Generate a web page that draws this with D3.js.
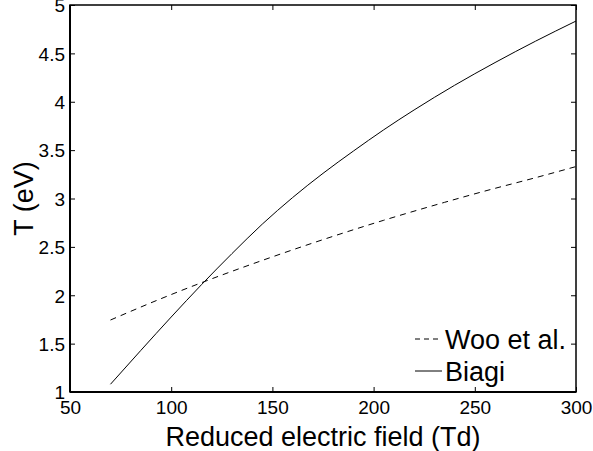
<!DOCTYPE html>
<html>
<head>
<meta charset="utf-8">
<script src="https://cdn.jsdelivr.net/npm/d3@7"></script>
<style>
html,body{margin:0;padding:0;background:#fff;}
svg{display:block;}
text{font-family:"Liberation Sans",Arial,Helvetica,sans-serif;fill:#000;}
</style>
</head>
<body>
<svg id="chart" width="593" height="451"></svg>
<script>
const wooX = [70, 95, 115, 145, 175, 205, 235, 255, 280, 300];
const wooT = [1.744, 1.965, 2.13, 2.36, 2.575, 2.775, 2.96, 3.077, 3.215, 3.33];
const biagiX = [70, 85, 100, 115, 130, 145, 160, 175, 190, 205, 220, 240, 260, 280, 300];
const biagiT = [1.08, 1.43, 1.775, 2.11, 2.43, 2.735, 3.01, 3.26, 3.49, 3.71, 3.915, 4.17, 4.405, 4.626, 4.834];
const xTicks = [50, 100, 150, 200, 250, 300];
const yTicks = [1, 1.5, 2, 2.5, 3, 3.5, 4, 4.5, 5];
const seriesNames = ["Woo et al.", "Biagi"];
const xLabel = "Reduced electric field (Td)";
const yLabel = "T (eV)";

const W = 593, H = 451;
const m = {left: 70, right: 17, top: 5, bottom: 59};
const svg = d3.select("#chart");
const x = d3.scaleLinear().domain([50, 300]).range([m.left, W - m.right]);
const y = d3.scaleLinear().domain([1, 5]).range([H - m.bottom, m.top]);

const line = d3.line().x(d => x(d[0])).y(d => y(d[1])).curve(d3.curveMonotoneX);
const woo = wooX.map((v, i) => [v, wooT[i]]);
const biagi = biagiX.map((v, i) => [v, biagiT[i]]);

svg.append("path").datum(woo).attr("d", line)
  .attr("fill", "none").attr("stroke", "#000").attr("stroke-width", 1)
  .attr("stroke-dasharray", "6,5");
svg.append("path").datum(biagi).attr("d", line)
  .attr("fill", "none").attr("stroke", "#000").attr("stroke-width", 1);

// axes (ticks inward, mirrored)
const tickLen = 5;
const fmt = d => String(d);
const gB = svg.append("g").attr("transform", `translate(0,${H - m.bottom})`)
  .call(d3.axisBottom(x).tickValues(xTicks).tickSize(-tickLen).tickPadding(9).tickFormat(fmt));
const gT = svg.append("g").attr("transform", `translate(0,${m.top})`)
  .call(d3.axisTop(x).tickValues(xTicks).tickSize(-tickLen).tickFormat(""));
const gL = svg.append("g").attr("transform", `translate(${m.left},0)`)
  .call(d3.axisLeft(y).tickValues(yTicks).tickSize(-tickLen).tickPadding(10).tickFormat(fmt));
const gR = svg.append("g").attr("transform", `translate(${W - m.right},0)`)
  .call(d3.axisRight(y).tickValues(yTicks).tickSize(-tickLen).tickFormat(""));
[gB, gT, gL, gR].forEach(g => {
  g.select(".domain").remove();
  g.selectAll(".tick line").attr("stroke", "#000").attr("stroke-width", 1);
  g.selectAll("text").attr("font-size", 19).attr("font-family", "Liberation Sans, Arial, sans-serif").attr("fill", "#000");
});
gB.selectAll("text").attr("dy", "0.71em");
gL.selectAll("text").attr("dy", "0.36em").attr("x", -5);

// box
svg.append("rect").attr("x", m.left).attr("y", m.top)
  .attr("width", W - m.left - m.right).attr("height", H - m.top - m.bottom)
  .attr("fill", "none").attr("stroke", "#000").attr("stroke-width", 1.5);
svg.append("line").attr("x1", m.left).attr("x2", m.left).attr("y1", m.top).attr("y2", H - m.bottom)
  .attr("stroke", "#000").attr("stroke-width", 2);
svg.append("line").attr("x1", m.left).attr("x2", W - m.right).attr("y1", H - m.bottom).attr("y2", H - m.bottom)
  .attr("stroke", "#000").attr("stroke-width", 2);

// labels
svg.append("text").attr("x", (m.left + W - m.right) / 2).attr("y", 446)
  .attr("text-anchor", "middle").attr("font-size", 27).text(xLabel);
svg.append("text").attr("transform", `translate(33,${(m.top + H - m.bottom) / 2}) rotate(-90)`)
  .attr("text-anchor", "middle").attr("font-size", 27).text(yLabel);

// legend
const leg = [{name: seriesNames[0], dash: "5,4", yy: 339, ty: 349},
             {name: seriesNames[1], dash: null, yy: 371, ty: 381}];
leg.forEach(l => {
  const ln = svg.append("line").attr("x1", 415).attr("x2", 442).attr("y1", l.yy).attr("y2", l.yy)
    .attr("stroke", "#000").attr("stroke-width", 1);
  if (l.dash) ln.attr("stroke-dasharray", l.dash);
  svg.append("text").attr("x", 445).attr("y", l.ty).attr("font-size", 27).text(l.name);
});
</script>
</body>
</html>
